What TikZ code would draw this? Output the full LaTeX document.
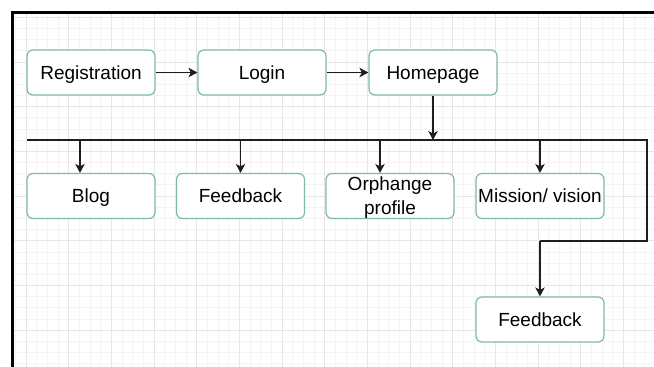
\documentclass[tikz,border=0pt]{standalone}
\usepackage{fontspec}
\setmainfont{Liberation Sans}
\usetikzlibrary{arrows.meta}
\definecolor{boxline}{HTML}{7FB8AD}
\definecolor{gridminor}{HTML}{F4F4F4}
\definecolor{gridmajor}{HTML}{E6E6E6}
\definecolor{wire}{HTML}{1E1E1E}
\begin{document}
\begin{tikzpicture}[x=1pt,y=-1pt,
  box/.style={draw=boxline,line width=1.2pt,fill=white,rounded corners=6pt,
    minimum width=128pt,minimum height=45pt,inner sep=0pt,
    text height=13.6pt,text depth=0pt,
    font=\fontsize{19}{24}\selectfont,text=black,align=center},
  boxtext/.style={font=\fontsize{19}{24}\selectfont,text=black,align=center,inner sep=0pt},
  wirestyle/.style={draw=wire,line width=1.1pt},
  arr/.style={wirestyle,-{Stealth[length=9pt,width=9.5pt,inset=2.5pt]}}]
\useasboundingbox (0,0) rectangle (654,367);
\fill[white] (0,0) rectangle (654,367);
% grid
\begin{scope}
\clip (13,13) rectangle (654,367);
\foreach \xx in {15.33,26,...,660} \draw[gridminor,line width=0.8pt] (\xx,0) -- (\xx,367);
\foreach \yy in {17.33,28.5,...,370} \draw[gridminor,line width=0.8pt] (0,\yy) -- (654,\yy);
\foreach \xx in {26,68.67,...,660} \draw[gridmajor,line width=0.8pt] (\xx,0) -- (\xx,367);
\foreach \yy in {17.33,62,...,370} \draw[gridmajor,line width=0.8pt] (0,\yy) -- (654,\yy);
\end{scope}
% frame
\draw[line width=2.6pt,black,line join=miter] (12.5,367) -- (12.5,12.5) -- (654,12.5);
% nodes
\node[box] (reg) at (91,72.5) {Registration};
\node[box] (login) at (262,72.5) {Login};
\node[box] (home) at (433,72.5) {Homepage};
\node[box] (blog) at (91,196) {Blog};
\node[box] (fbone) at (240.5,196) {Feedback};
\node[box] (orph) at (390,196) {};
\node[boxtext] (orphtext) at (390,197.5) {Orphange\\profile};
\node[box] (miss) at (540,196) {Mission/ vision};
\node[box] (fbtwo) at (540,319.5) {Feedback};
% bus coordinates
\coordinate (busL) at (27,140);
\coordinate (busR) at (647,140);
\coordinate (busH) at (433,140);
\coordinate (bend) at (647,241);
\coordinate (bendL) at (540,241);
\coordinate (tBlog) at (80,140);
\coordinate (tFb) at (240.5,140);
\coordinate (tOrph) at (380,140);
\coordinate (tMiss) at (540,140);
% connectors
\draw[arr] (reg) -- (login);
\draw[arr] (login) -- (home);
\draw[arr] (home) -- (busH);
\draw[wirestyle] (busL) -- (busR) -- (bend) -- (bendL);
\draw[arr] (bendL) -- (fbtwo.north);
\draw[arr] (tBlog) -- (tBlog |- blog.north);
\draw[arr] (tFb) -- (fbone.north);
\draw[arr] (tOrph) -- (tOrph |- orph.north);
\draw[arr] (tMiss) -- (miss.north);
\end{tikzpicture}
\end{document}
